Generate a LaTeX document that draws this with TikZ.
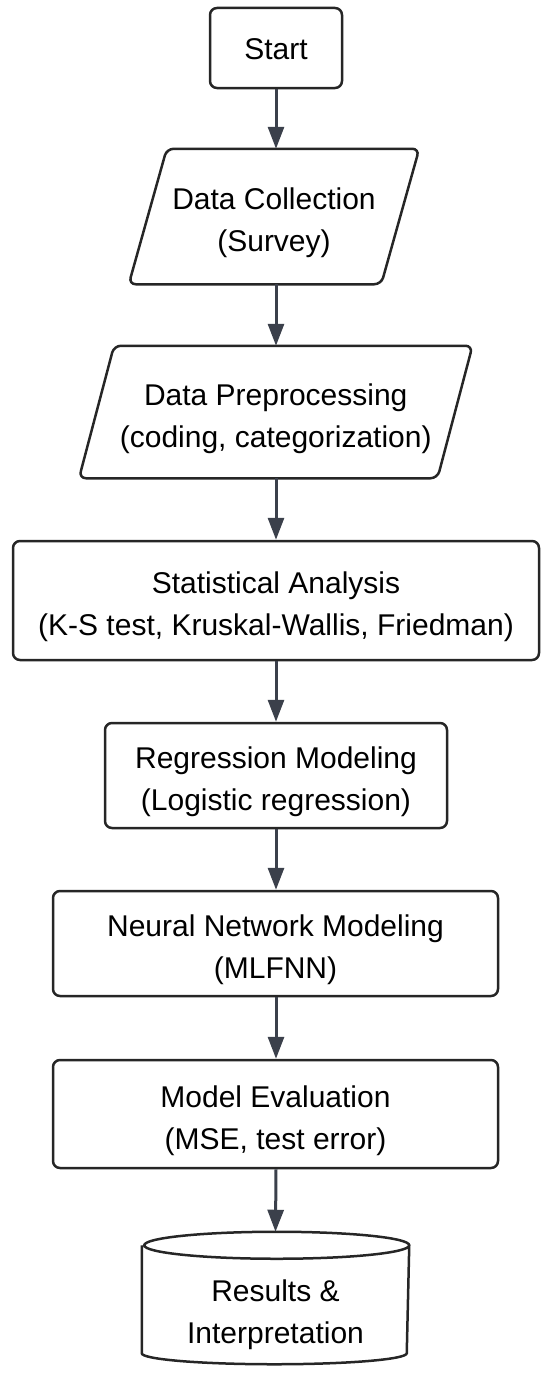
\documentclass[tikz,border=0pt]{standalone}
\usepackage{fontspec}
\setmainfont{Liberation Sans}
\usetikzlibrary{arrows.meta}
\definecolor{arrowgray}{HTML}{3B404B}

\begin{document}
\begin{tikzpicture}[x=1pt,y=-1pt,
  box/.style={draw=black!85,line width=2.5pt,rounded corners=7pt,align=center,inner sep=0pt,text height=77pt,font=\fontsize{30}{42}\selectfont},
  outline/.style={draw=black!85,line width=2.5pt,rounded corners=7pt},
  flow/.style={-{Triangle[length=22pt,width=16pt]},line width=3pt,draw=arrowgray}]
\useasboundingbox (0,0) rectangle (550,1381);
\node[box,text height=24pt,minimum width=132,minimum height=80] (start) at (276,48){Start};
\node[box,draw=none,minimum width=250,minimum height=133] (collect) at (274,216.5){Data Collection\\(Survey)};
\node[box,draw=none,minimum width=356,minimum height=130] (prep) at (275.75,412){Data Preprocessing\\(coding, categorization)};
\node[box,minimum width=526,minimum height=119] (stat) at (276,600.5){Statistical Analysis\\(K-S test, Kruskal-Wallis, Friedman)};
\node[box,minimum width=342,minimum height=105] (regr) at (276,775.5){Regression Modeling\\(Logistic regression)};
\node[box,minimum width=445,minimum height=105] (nnet) at (275.5,943.5){Neural Network Modeling\\(MLFNN)};
\node[box,minimum width=445,minimum height=108] (eval) at (275.5,1114){Model Evaluation\\(MSE, test error)};
\node[box,draw=none,text height=97pt,minimum width=265,minimum height=130] (res) at (275.5,1298){Results \&\\Interpretation};
% slanted input boxes
\draw[outline] ([xshift=-19pt]collect.south west) -- ([xshift=19pt]collect.north west) -- ([xshift=19pt]collect.north east) -- ([xshift=-19pt]collect.south east) -- cycle;
\draw[outline] ([xshift=-17.5pt]prep.south west) -- ([xshift=17.5pt]prep.north west) -- ([xshift=17.5pt]prep.north east) -- ([xshift=-17.5pt]prep.south east) -- cycle;
% drum outline of the last step
\draw[outline,sharp corners] ([yshift=-13.5pt]res.north west) -- ([yshift=11pt]res.south west)
  arc[start angle=180,end angle=360,x radius=132.5pt,y radius=11pt] -- ([yshift=-13.5pt]res.north east)
  arc[start angle=0,end angle=180,x radius=132.5pt,y radius=13.5pt]
  arc[start angle=180,end angle=360,x radius=132.5pt,y radius=13.5pt];
\draw[flow] (start.south) -- (start.south |- collect.north);
\draw[flow] (start.south |- collect.south) -- (start.south |- prep.north);
\draw[flow] (start.south |- prep.south) -- (stat.north);
\draw[flow] (stat.south) -- (regr.north);
\draw[flow] (regr.south) -- (regr.south |- nnet.north);
\draw[flow] (regr.south |- nnet.south) -- (regr.south |- eval.north);
\draw[flow] (regr.south |- eval.south) -- (res.north);
\end{tikzpicture}
\end{document}
